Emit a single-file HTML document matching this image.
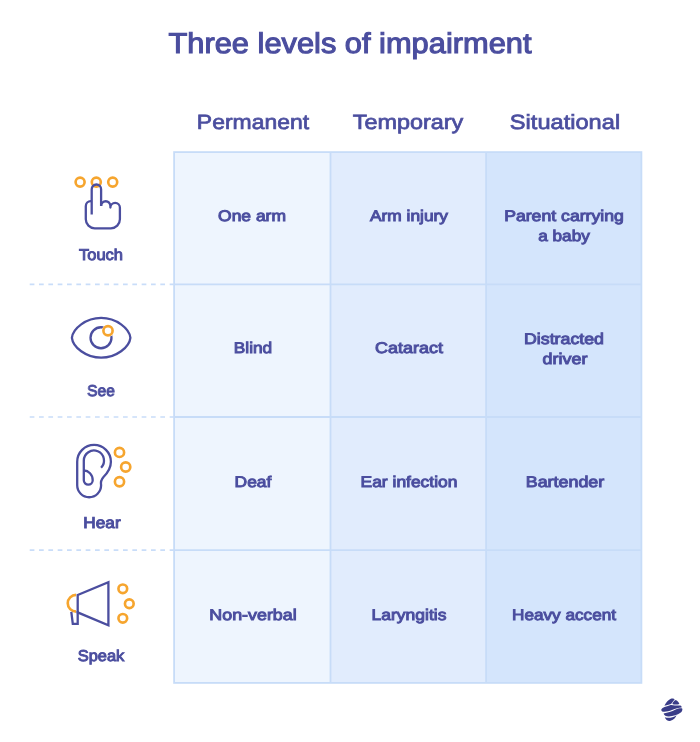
<!DOCTYPE html>
<html><head><meta charset="utf-8">
<style>
html,body{margin:0;padding:0;background:#fff;}
body{width:700px;height:742px;position:relative;overflow:hidden;font-family:"Liberation Sans",sans-serif;color:#4b4e9f;}
.t{position:absolute;white-space:nowrap;line-height:1;text-align:center;width:600px;text-rendering:geometricPrecision;will-change:transform;transform-origin:300px 0;}
.title{font-size:28.6px;font-weight:normal;-webkit-text-stroke:1.1px #4b4e9f;}
.hd{font-size:20.6px;font-weight:normal;-webkit-text-stroke:0.7px #4b4e9f;}
.cell{font-size:15.4px;font-weight:normal;-webkit-text-stroke:0.95px #4b4e9f;}
.lbl{font-size:15.7px;font-weight:normal;-webkit-text-stroke:0.95px #4b4e9f;}
svg{position:absolute;left:0;top:0;}
</style></head>
<body>
<svg width="700" height="742" viewBox="0 0 700 742">
  <rect x="174" y="152.2" width="156.5" height="530.8" fill="#eef5fe"/>
  <rect x="330.5" y="152.2" width="155.7" height="530.8" fill="#e1ecfd"/>
  <rect x="486.2" y="152.2" width="155.8" height="530.8" fill="#d4e5fc"/>
  <g fill="none" stroke="#c7dcf8" stroke-width="1.8">
    <rect x="174.1" y="152.1" width="467.3" height="530.8"/>
    <line x1="330.5" y1="152" x2="330.5" y2="683"/>
    <line x1="486.1" y1="152" x2="486.1" y2="683"/>
    <line x1="174" y1="284.4" x2="642" y2="284.4"/>
    <line x1="174" y1="417" x2="642" y2="417"/>
    <line x1="174" y1="550.1" x2="642" y2="550.1"/>
  </g>
  <g fill="none" stroke="#c9ddf9" stroke-width="1.7" stroke-dasharray="4.7 4.63">
    <line x1="29.7" y1="284.4" x2="174" y2="284.4"/>
    <line x1="29.7" y1="417" x2="174" y2="417"/>
    <line x1="29.7" y1="550.1" x2="174" y2="550.1"/>
  </g>

  <!-- Touch icon -->
  <g fill="none" stroke="#f6a52e" stroke-width="2.65">
    <circle cx="80.1" cy="182.1" r="4.5"/>
    <circle cx="96.3" cy="182.1" r="4.5"/>
    <circle cx="112.7" cy="182.1" r="4.5"/>
  </g>
  <g fill="none" stroke="#4b4e9f" stroke-width="2.3" stroke-linecap="butt" stroke-linejoin="round">
    <path d="M91.7,214.6 V189.2 A4.7,4.7 0 0 1 101.1,189.2 V206"/>
    <path d="M101.1,205.9 A4.65,4.65 0 0 1 110.4,205.9 V207.6 A4.75,4.75 0 0 1 119.9,207.6 V219.3 A9,9 0 0 1 110.9,228.3 H94.8 A9,9 0 0 1 85.8,219.3 V206.2 A5,5 0 0 1 90.8,201.2 H91.7"/>
  </g>

  <!-- Eye icon -->
  <g fill="none" stroke="#4b4e9f" stroke-width="2.3">
    <path d="M71.9,337.8 C72.9,328.5 86,317.9 101.15,317.9 C116.3,317.9 129.4,328.5 130.4,337.8 C129.4,347.1 116.3,357.7 101.15,357.7 C86,357.7 72.9,347.1 71.9,337.8 Z"/>
    <circle cx="101" cy="337.75" r="10.5"/>
  </g>
  <circle cx="108" cy="330.8" r="6.2" fill="#fff"/>
  <circle cx="108" cy="330.8" r="4.6" fill="none" stroke="#f6a52e" stroke-width="2.65"/>

  <!-- Ear icon -->
  <g fill="none" stroke="#4b4e9f" stroke-width="2.3" stroke-linejoin="round">
    <path d="M77.2,461.8 A16.85,16.85 0 0 1 110.9,461.8 C110.9,469 107,473.5 103.5,477 C100.8,480 100.6,482.5 101.1,485.3 A11.95,11.95 0 0 1 77.2,485.3 Z"/>
    <path d="M101.1,467.7 A10.1,10.1 0 1 0 83.8,460.5 V480.2 A4.45,4.45 0 0 0 92.7,480.2 C92.7,474.5 88.5,470.5 83.8,470.5"/>
  </g>
  <g fill="none" stroke="#f6a52e" stroke-width="2.65">
    <circle cx="119.5" cy="452.4" r="4.6"/>
    <circle cx="125.7" cy="467" r="4.6"/>
    <circle cx="119.5" cy="481.8" r="4.6"/>
  </g>

  <!-- Megaphone icon -->
  <path d="M76.1,594.9 A8.3,8.3 0 0 0 76.1,611.6" fill="none" stroke="#f6a52e" stroke-width="2.65"/>
  <g fill="none" stroke="#4b4e9f" stroke-width="2.3" stroke-linejoin="miter">
    <path d="M77.7,595 L108.4,582.3 V625.2 L77.7,612.4 Z"/>
    <path d="M71.3,611.8 L72.8,623.8 H77.7 V611"/>
  </g>
  <g fill="none" stroke="#f6a52e" stroke-width="2.65">
    <circle cx="122.8" cy="588.8" r="4.35"/>
    <circle cx="129.3" cy="603.7" r="4.35"/>
    <circle cx="122.8" cy="618.3" r="4.35"/>
  </g>

  <!-- Logo -->
  <g transform="translate(658,696) scale(0.04)" fill="#393c88">
    <path d="M160,245 C200,170 250,95 320,68 C360,55 400,62 415,85 C380,130 345,170 325,200 C270,215 210,235 160,245 Z"/>
    <path d="M360,200 C375,150 405,110 445,100 C490,120 520,160 535,200 C480,215 410,220 360,200 Z"/>
    <path d="M85,330 C110,285 200,265 300,230 C340,218 380,235 420,240 C480,240 540,225 575,245 C590,260 595,275 590,288 C520,290 440,310 350,350 C260,385 170,400 105,385 C85,370 80,350 85,330 Z"/>
    <path d="M140,435 C240,425 340,390 440,340 C500,312 560,300 605,310 C620,345 600,390 560,420 C490,470 380,505 270,510 C200,510 150,480 140,435 Z"/>
    <path d="M170,530 C260,560 360,545 465,480 C440,545 390,600 300,625 C240,630 190,590 170,530 Z"/>
  </g>
</svg>

<div class="t title" style="left:50.30px;top:29.66px;transform:scaleX(1.0774)">Three levels of impairment</div>
<div class="t hd" style="left:-47.05px;top:112.76px;transform:scaleX(1.1143)">Permanent</div>
<div class="t hd" style="left:108.30px;top:112.76px;transform:scaleX(1.1373)">Temporary</div>
<div class="t hd" style="left:264.50px;top:112.76px;transform:scaleX(1.1468)">Situational</div>
<div class="t cell" style="left:-47.75px;top:208.54px;transform:scaleX(1.1334)">One arm</div>
<div class="t cell" style="left:109.05px;top:208.54px;transform:scaleX(1.1252)">Arm injury</div>
<div class="t cell" style="left:263.80px;top:208.54px;transform:scaleX(1.1473)">Parent carrying</div>
<div class="t cell" style="left:264.00px;top:228.54px;transform:scaleX(1.1159)">a baby</div>
<div class="t cell" style="left:-47.50px;top:341.34px;transform:scaleX(1.1212)">Blind</div>
<div class="t cell" style="left:108.95px;top:341.34px;transform:scaleX(1.1647)">Cataract</div>
<div class="t cell" style="left:264.20px;top:332.23px;transform:scaleX(1.1542)">Distracted</div>
<div class="t cell" style="left:264.50px;top:351.84px;transform:scaleX(1.1628)">driver</div>
<div class="t cell" style="left:-46.75px;top:474.54px;transform:scaleX(1.1300)">Deaf</div>
<div class="t cell" style="left:109.45px;top:474.54px;transform:scaleX(1.1329)">Ear infection</div>
<div class="t cell" style="left:264.65px;top:474.54px;transform:scaleX(1.1610)">Bartender</div>
<div class="t cell" style="left:-47.32px;top:607.63px;transform:scaleX(1.1601)">Non-verbal</div>
<div class="t cell" style="left:109.25px;top:607.63px;transform:scaleX(1.1352)">Laryngitis</div>
<div class="t cell" style="left:264.40px;top:607.63px;transform:scaleX(1.1152)">Heavy accent</div>
<div class="t lbl" style="left:-199.15px;top:248.23px;transform:scaleX(1.0505)">Touch</div>
<div class="t lbl" style="left:-199.00px;top:384.23px;transform:scaleX(0.9891)">See</div>
<div class="t lbl" style="left:-198.40px;top:516.23px;transform:scaleX(1.0985)">Hear</div>
<div class="t lbl" style="left:-198.75px;top:649.43px;transform:scaleX(1.0490)">Speak</div>
</body></html>
